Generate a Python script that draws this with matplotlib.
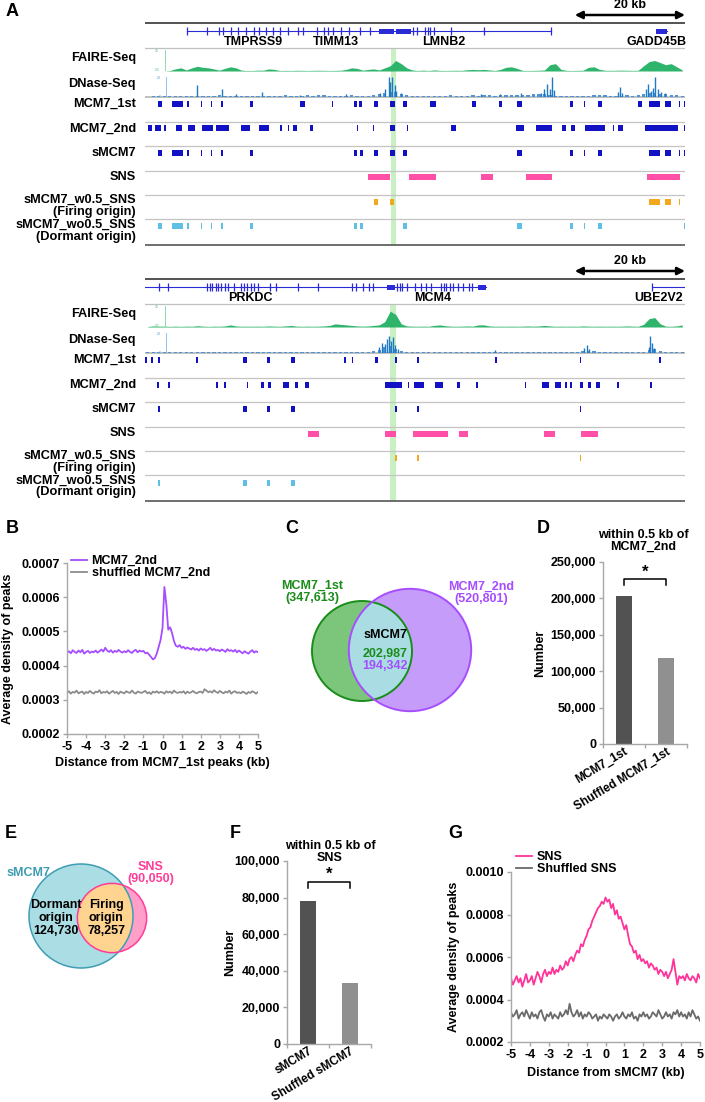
import numpy as np
import matplotlib.pyplot as plt
from matplotlib.patches import Circle, Rectangle
from matplotlib.ticker import FuncFormatter
from matplotlib.transforms import ScaledTranslation

plt.rcParams['font.family'] = ['Liberation Sans', 'DejaVu Sans']
plt.rcParams['font.weight'] = 'bold'
plt.rcParams['axes.labelweight'] = 'bold'
plt.rcParams['axes.unicode_minus'] = False

W, H = 705, 1102
FS = 9

# ---------------- panel A data (positions in kb from left edge of window) ----------------
SPAN_KB = 98
SCALE_KB = 20

top_gene_line = [(7.6, 73.6), (92.7, 94.7)]
top_exons = [7.6, 11.3, 13.5, 14.2, 15.6, 16.9, 18.4, 19.8, 20.7, 22.0, 23.3, 24.5, 26.0,
             27.8, 28.7, 31.3, 32.4, 33.3, 34.2, 35.5, 37.1, 39.1, 40.9, 48.7, 49.3, 50.9,
             51.3, 51.8, 52.4, 55.5, 61.5, 73.6]
top_thick = [(42.4, 45.1), (45.5, 48.2), (92.7, 94.7)]
top_gene_names = ["TMPRSS9", "TIMM13", "LMNB2", "GADD45B"]
top_gene_pos = [19.6, 34.7, 54.2, 92.9]

top_faire = [0, 0, 0, 0, 0.5, 2, 3, 1, 3, 4.5,
             3.5, 3, 2, 0.8, 2.5, 4, 3, 0.8, 0.5, 0.5,
             0.8, 0.8, 2, 1.5, 0.5, 0.6, 0.5, 0.7, 0.6, 0.5,
             0.6, 0.7, 0.6, 0.5, 0.6, 0.7, 1.5, 3, 2.5, 0.8,
             1.5, 2, 1, 3, 5, 10, 7, 3, 1, 0.5,
             0.8, 0.5, 1, 0.6, 0.5, 0.6, 0.7, 0.6, 1.2, 1.5,
             1.2, 1.5, 1, 0.5, 1.5, 3.5, 4, 2.5, 0.6, 0.5,
             0.6, 0.7, 1, 6, 7, 1.5, 0.6, 0.5, 0.6, 0.7,
             3.5, 4, 1.5, 0.7, 0.6, 0.7, 0.8, 0.7, 0.6, 0.7,
             5, 9, 10, 8, 6, 7, 4, 1]
top_dnase_bg = [0.5, 0.8, 1.0, 0.8, 1.0, 1.2, 1.0, 1.5, 1.0, 1.2,
                1.0, 1.2, 1.5, 2.0, 1.2, 1.0, 1.5, 1.2, 1.0, 1.2,
                1.5, 1.2, 1.0, 1.5, 1.2, 1.8, 1.5, 1.2, 1.5, 1.8,
                1.5, 2.0, 1.8, 1.5, 1.5, 1.2, 1.5, 1.8, 1.5, 1.2,
                1.5, 2.0, 3.0, 4.0, 5.0, 5.0, 3.0, 2.0, 1.5, 1.2,
                1.0, 1.2, 1.5, 1.2, 1.5, 1.8, 1.5, 1.2, 1.5, 1.8,
                1.5, 1.8, 2.0, 1.5, 1.8, 2.0, 2.2, 2.5, 2.0, 2.5,
                3.0, 3.0, 3.5, 2.5, 1.5, 1.2, 1.0, 1.2, 1.5, 1.2,
                1.5, 1.8, 2.0, 2.5, 1.5, 1.2, 1.5, 1.8, 1.5, 2.5,
                3.5, 4.0, 4.0, 3.5, 3.0, 2.5, 2.0, 1.5]
top_dnase_spike_pos = [9.5, 14.0, 16.5, 21.3, 28.2, 36.5, 42.7, 43.6, 44.2, 44.5, 44.9, 45.3,
                       45.6, 46.4, 60.9, 64.5, 68.2, 71.8, 72.4, 72.9, 73.5, 73.8, 74.2, 85.8,
                       86.2, 86.5, 90.9, 91.3, 91.8, 92.2, 92.5, 93.1, 93.6, 94.4]
top_dnase_spike_val = [12, 8, 3, 5, 2.5, 3, 4, 8, 20, 15, 20, 12,
                       6, 4, 3, 3, 4, 4, 8, 13, 8, 20, 7, 5,
                       10, 4, 8, 13, 6, 9, 20, 8, 5, 4]

top_mcm7_1st = [(2.4, 3.1), (4.9, 6.9), (7.6, 8.0), (10.2, 10.4), (12.0, 12.2), (13.8, 14.2),
                (19.1, 19.6), (28.2, 29.1), (34.0, 34.2), (38.0, 38.5), (38.9, 39.3), (41.6, 42.2),
                (44.4, 45.3), (46.9, 47.5), (51.8, 52.9), (59.3, 60.0), (64.2, 64.7), (67.5, 68.5),
                (77.1, 77.6), (79.6, 79.8), (82.2, 82.9), (89.5, 90.2), (91.5, 93.5), (94.4, 95.5),
                (96.9, 97.1), (97.8, 98.0)]
top_mcm7_2nd = [(0.5, 1.3), (1.8, 2.9), (3.5, 3.8), (5.6, 6.7), (7.8, 9.1), (10.4, 12.4),
                (12.9, 15.3), (17.5, 19.1), (20.7, 22.5), (24.5, 24.9), (26.0, 26.2), (26.9, 27.5),
                (30.0, 30.4), (38.4, 38.7), (41.3, 41.6), (44.4, 45.3), (47.5, 47.8), (55.6, 56.5),
                (67.3, 68.7), (70.9, 73.8), (75.6, 76.4), (77.3, 78.0), (79.8, 83.5), (84.9, 85.1),
                (85.8, 86.7), (90.7, 96.7), (97.8, 98.0)]
top_smcm7 = [(2.4, 3.1), (4.9, 6.9), (7.6, 8.0), (10.2, 10.4), (12.0, 12.2), (13.8, 14.2),
             (19.1, 19.6), (38.0, 38.5), (39.1, 39.5), (41.6, 42.2), (44.4, 45.3), (46.9, 47.5),
             (67.5, 68.5), (77.1, 77.6), (79.6, 79.8), (82.2, 82.9), (91.5, 93.5), (94.4, 95.5),
             (96.9, 97.1), (97.8, 98.0)]
top_sns = [(40.4, 44.4), (48.0, 52.9), (60.9, 63.1), (69.1, 73.8), (91.1, 97.1)]
top_firing = [(41.6, 42.2), (44.4, 45.1), (91.5, 93.5), (94.4, 95.5), (96.9, 97.1)]
top_dormant = [(2.4, 3.1), (4.9, 6.9), (7.6, 8.0), (10.2, 10.4), (12.0, 12.2), (13.8, 14.2),
               (19.1, 19.6), (38.0, 38.5), (39.1, 39.5), (46.9, 47.5), (67.5, 68.5), (77.1, 77.6),
               (79.6, 79.8), (82.2, 82.9), (97.8, 98.0)]
top_highlight = (44.7, 45.6)

bot_gene_line = [(0.0, 61.8), (92.0, 98.0)]
bot_exons = [2.5, 4.1, 11.3, 11.8, 12.2, 12.8, 13.3, 13.8, 14.6, 15.0, 16.1, 17.5, 18.0, 18.5,
             19.3, 19.7, 20.5, 22.6, 23.8, 27.7, 31.4, 37.5, 38.3, 39.6, 40.6, 41.3, 45.7, 46.2,
             46.7, 47.5, 49.0, 50.0, 51.0, 51.9, 53.7, 54.3, 54.7, 55.3, 55.9, 56.8, 57.8, 58.8,
             59.3, 92.0]
bot_thick = [(43.9, 45.3), (60.5, 61.8)]
bot_gene_names = ["PRKDC", "MCM4", "UBE2V2"]
bot_gene_pos = [19.1, 52.3, 93.2]

bot_faire = [0.5, 1.0, 0.8, 0.8, 0.6, 0.8, 0.6, 0.8, 0.7, 1.2,
             0.8, 0.6, 0.8, 0.7, 1.0, 2.0, 1.0, 0.7, 0.8, 0.7,
             0.8, 0.7, 1.0, 0.8, 0.7, 1.0, 1.5, 0.8, 0.7, 0.8,
             0.7, 0.8, 1.0, 1.5, 3.0, 2.5, 2.0, 1.5, 1.0, 0.8,
             1.0, 1.5, 2.0, 5.0, 15.0, 12.0, 3.0, 1.0, 0.8, 0.7,
             0.8, 0.7, 1.5, 2.0, 1.2, 0.8, 0.7, 0.8, 1.0, 0.8,
             2.0, 2.0, 1.0, 0.7, 0.8, 0.7, 0.8, 0.7, 0.8, 1.0,
             0.8, 1.0, 1.5, 1.0, 0.7, 0.8, 0.7, 0.8, 0.7, 1.0,
             0.8, 0.7, 0.8, 0.7, 0.8, 0.7, 0.8, 1.0, 0.8, 0.7,
             2.5, 8.0, 9.0, 3.0, 0.8, 0.7, 1.0, 2.0]
bot_dnase_bg = [0.8, 1.0, 0.8, 1.2, 1.0, 0.8, 1.0, 1.2, 1.0, 0.8,
                1.0, 1.2, 1.0, 1.2, 1.5, 1.2, 1.0, 1.2, 1.0, 1.2,
                1.0, 1.2, 1.0, 0.8, 1.0, 1.2, 1.0, 0.8, 1.0, 1.2,
                1.0, 1.2, 1.0, 1.5, 1.2, 1.0, 1.2, 1.0, 1.2, 1.5,
                1.5, 2.0, 3.0, 6.0, 7.0, 4.0, 2.0, 1.2, 1.0, 1.2,
                1.0, 1.2, 1.0, 0.8, 1.0, 1.2, 1.0, 0.8, 1.0, 1.2,
                1.0, 1.2, 1.0, 1.5, 1.2, 1.0, 1.2, 1.0, 1.2, 1.0,
                1.2, 1.0, 1.2, 1.5, 1.2, 1.0, 1.2, 1.5, 1.5, 2.0,
                2.5, 2.0, 1.5, 1.2, 1.0, 1.2, 1.0, 1.2, 1.0, 1.2,
                1.5, 3.0, 4.0, 2.0, 1.2, 1.0, 1.0, 0.8]
bot_dnase_spike_pos = [42.5, 43.0, 43.5, 44.0, 44.3, 44.7, 45.0, 45.4, 46.0, 63.6,
                       79.6, 80.2, 80.6, 91.4, 91.7, 92.0, 92.3]
bot_dnase_spike_val = [6, 10, 9, 14, 17, 12, 16, 8, 4, 3,
                       5, 8, 4, 6, 17, 10, 5]

bot_mcm7_1st = [(0.0, 0.4), (1.1, 1.5), (2.4, 2.7), (9.3, 9.6), (17.8, 18.5), (22.2, 22.7),
                (26.5, 27.3), (36.2, 36.4), (37.5, 37.8), (41.8, 42.2), (45.3, 45.8), (49.3, 49.8),
                (63.5, 63.8), (78.9, 79.1), (93.3, 93.6)]
bot_mcm7_2nd = [(2.2, 2.5), (4.2, 4.5), (12.9, 13.3), (14.4, 14.7), (18.5, 18.7), (21.1, 21.6),
                (22.4, 22.9), (25.1, 26.2), (27.3, 27.8), (29.1, 29.8), (43.5, 46.7), (47.8, 48.0),
                (48.9, 50.7), (52.7, 54.0), (56.7, 57.1), (60.0, 60.5), (68.9, 69.1), (72.0, 73.3),
                (74.4, 75.5), (76.2, 76.5), (77.1, 77.5), (78.9, 79.5), (80.4, 80.9), (81.8, 82.5),
                (85.6, 86.0), (91.6, 92.0)]
bot_smcm7 = [(2.4, 2.7), (17.8, 18.5), (22.2, 22.7), (26.5, 27.3), (45.3, 45.8), (49.3, 49.8),
             (78.9, 79.1)]
bot_sns = [(29.6, 31.5), (43.6, 45.6), (48.7, 54.9), (56.9, 58.7), (72.5, 74.4), (79.1, 82.2)]
bot_firing = [(45.3, 45.8), (49.3, 49.8), (78.9, 79.1)]
bot_dormant = [(2.4, 2.7), (17.8, 18.5), (22.2, 22.7), (26.5, 27.3)]
bot_highlight = (44.5, 45.6)

track_labels = ["MCM7_1st", "MCM7_2nd", "sMCM7", "SNS",
                "sMCM7_w0.5_SNS\n(Firing origin)", "sMCM7_wo0.5_SNS\n(Dormant origin)"]

# ---------------- panel B / G profiles (x in kb, density in 1e-4) ----------------
b_mcm7_2nd = [4.38, 4.42, 4.36, 4.45, 4.40, 4.37, 4.44, 4.39, 4.46, 4.35,
              4.40, 4.43, 4.37, 4.41, 4.39, 4.44, 4.38, 4.42, 4.47, 4.41,
              4.52, 4.44, 4.40, 4.45, 4.38, 4.43, 4.40, 4.46, 4.41, 4.38,
              4.42, 4.39, 4.45, 4.40, 4.37, 4.43, 4.46, 4.39, 4.44, 4.41,
              4.43, 4.36, 4.38, 4.32, 4.25, 4.18, 4.22, 4.35, 4.55, 4.75,
              5.10, 6.30, 5.80, 5.05, 5.12, 4.95, 4.72, 4.58, 4.55, 4.60,
              4.52, 4.55, 4.49, 4.53, 4.50, 4.47, 4.52, 4.46, 4.49, 4.44,
              4.50, 4.46, 4.48, 4.43, 4.47, 4.52, 4.45, 4.49, 4.44, 4.46,
              4.42, 4.47, 4.44, 4.40, 4.48, 4.43, 4.45, 4.41, 4.46, 4.39,
              4.44, 4.40, 4.36, 4.42, 4.38, 4.35, 4.41, 4.45, 4.38, 4.42,
              4.39]
b_shuffled = [3.20, 3.25, 3.18, 3.23, 3.21, 3.27, 3.19, 3.22, 3.24, 3.17,
              3.23, 3.20, 3.26, 3.21, 3.18, 3.24, 3.22, 3.28, 3.19, 3.23,
              3.21, 3.25, 3.18, 3.22, 3.26, 3.20, 3.23, 3.17, 3.24, 3.21,
              3.19, 3.25, 3.22, 3.20, 3.27, 3.21, 3.18, 3.24, 3.22, 3.20,
              3.23, 3.26, 3.19, 3.22, 3.17, 3.24, 3.21, 3.25, 3.20, 3.23,
              3.22, 3.18, 3.25, 3.21, 3.24, 3.19, 3.27, 3.22, 3.20, 3.23,
              3.21, 3.25, 3.18, 3.24, 3.20, 3.22, 3.26, 3.21, 3.19, 3.23,
              3.24, 3.20, 3.31, 3.27, 3.22, 3.25, 3.21, 3.28, 3.23, 3.20,
              3.26, 3.22, 3.19, 3.24, 3.21, 3.27, 3.18, 3.23, 3.25, 3.20,
              3.22, 3.19, 3.24, 3.21, 3.17, 3.23, 3.20, 3.25, 3.22, 3.18,
              3.23]
g_sns = [5.0, 4.7, 4.9, 5.1, 4.8, 5.0, 4.6, 4.9, 5.2, 4.8,
         4.9, 5.1, 4.7, 5.0, 5.3, 5.1, 4.8, 5.2, 5.4, 5.1,
         5.3, 5.2, 5.5, 5.2, 5.4, 5.3, 5.6, 5.4, 5.5, 5.8,
         5.6, 5.9, 6.0, 5.8, 6.1, 6.3, 6.2, 6.6, 6.5, 6.8,
         7.0, 7.3, 7.4, 7.7, 7.9, 8.1, 8.3, 8.4, 8.6, 8.5,
         8.8, 8.6, 8.7, 8.3, 8.5, 8.0, 8.2, 7.8, 7.9, 7.6,
         7.3, 7.5, 7.0, 6.6, 6.5, 6.2, 6.3, 5.9, 6.1, 5.8,
         5.9, 5.7, 5.8, 5.5, 5.7, 5.6, 5.4, 5.5, 5.2, 5.4,
         5.3, 5.1, 5.3, 5.0, 5.2, 5.4, 5.9, 5.3, 4.7, 5.1,
         5.0, 5.1, 4.9, 5.2, 5.0, 4.9, 5.1, 5.0, 4.8, 5.2,
         5.0]
g_shuffled = [3.4, 3.2, 3.3, 3.5, 3.1, 3.3, 3.4, 3.2, 3.5, 3.3,
              3.1, 3.4, 3.2, 3.3, 3.1, 3.4, 3.5, 3.2, 3.0, 3.3,
              3.2, 3.4, 3.1, 3.3, 3.2, 3.1, 3.4, 3.2, 3.3, 3.5,
              3.3, 3.8, 3.4, 3.2, 3.3, 3.5, 3.2, 3.4, 3.1, 3.3,
              3.2, 3.4, 3.3, 3.1, 3.2, 3.3, 3.0, 3.2, 3.1, 3.3,
              3.2, 3.1, 3.3, 3.2, 3.0, 3.2, 3.3, 3.1, 3.2, 3.4,
              3.2, 3.1, 3.3, 3.2, 3.4, 3.1, 3.2, 3.0, 3.3, 3.2,
              3.4, 3.2, 3.3, 3.1, 3.2, 3.4, 3.3, 3.2, 3.5, 3.3,
              3.1, 3.2, 3.4, 3.2, 3.3, 3.1, 3.4, 3.3, 3.5, 3.2,
              3.4, 3.2, 3.3, 3.1, 3.4, 3.2, 3.5, 3.3, 3.1, 3.2,
              3.0]

# ---------------- Venn / bar data ----------------
c_mcm7_1st = 347613
c_mcm7_2nd = 520801
c_overlap_1st = 202987
c_overlap_2nd = 194342
d_labels = ["MCM7_1st", "Shuffled MCM7_1st"]
d_values = [202987, 118500]
e_dormant = 124730
e_firing = 78257
e_sns = 90050
f_labels = ["sMCM7", "Shuffled sMCM7"]
f_values = [78257, 33200]

# ---------------- styling ----------------
MCM_BLUE = '#1212c4'
SNS_PINK = '#ff4fa6'
FIRE_ORANGE = '#f2a81d'
DORM_BLUE = '#5ec0e4'
FAIRE_GREEN = '#2fb46c'
DNASE_BLUE = '#1f78c4'
GENE_BLUE = '#2a2ad6'
HL_GREEN = '#c8f0c2'
AX_GRAY = '#a8a8a8'

fig = plt.figure(figsize=(W / 100, H / 100), dpi=100)


def px_axes(x0, y0, x1, y1):
    return fig.add_axes([x0 / W, 1 - y1 / H, (x1 - x0) / W, (y1 - y0) / H])


def ftext(x, y, s, **kw):
    kw.setdefault('va', 'center')
    return fig.text(x / W, 1 - y / H, s, **kw)


TRACK_X0, TRACK_X1 = 145, 685
ROW_CENTERS = [104, 128.5, 153, 177.5, 202, 226.5]
ROW_SEPS = [122, 146, 171, 195, 219]


def draw_browser(y0, gene_lines, exons, thick, names, name_pos, faire, dnase_bg,
                 spike_pos, spike_val, tracks, highlight):
    ax = px_axes(TRACK_X0, y0, TRACK_X1, y0 + 246)
    ax.set_xlim(0, SPAN_KB)
    ax.set_ylim(246, 0)
    ax.axis('off')

    # highlighted origin
    ax.add_patch(Rectangle((highlight[0], 48), highlight[1] - highlight[0], 197,
                           facecolor=HL_GREEN, edgecolor='none', zorder=0))

    # scale bar
    ax.annotate('', xy=(SPAN_KB, 15), xytext=(SPAN_KB - SCALE_KB, 15),
                arrowprops=dict(arrowstyle='<|-|>', color='black', lw=1.8,
                                mutation_scale=11, shrinkA=0, shrinkB=0))
    ax.text(SPAN_KB - SCALE_KB / 2, 5, f'{SCALE_KB} kb', ha='center', va='center', fontsize=FS)

    # frame lines
    ax.plot([0, SPAN_KB], [23, 23], color='#444444', lw=1.3)
    ax.plot([0, SPAN_KB], [48, 48], color='#c0c0c0', lw=0.9)
    ax.plot([0, SPAN_KB], [97, 97], color='#b5b5b5', lw=1.2)
    for s in ROW_SEPS:
        ax.plot([0, SPAN_KB], [s, s], color='#c4c4c4', lw=0.9)
    ax.plot([0, SPAN_KB], [245, 245], color='#555555', lw=1.2)

    # genes
    for a, b in gene_lines:
        ax.plot([a, b], [31, 31], color=GENE_BLUE, lw=0.8)
    ax.vlines(exons, 27, 35, color=GENE_BLUE, lw=0.9)
    for a, b in thick:
        ax.add_patch(Rectangle((a, 28.5), b - a, 5, facecolor=GENE_BLUE, edgecolor='none'))
    for n, p in zip(names, name_pos):
        ax.text(p, 42, n, ha='center', va='center', fontsize=FS)

    # peak tracks
    for yc, (ivals, col) in zip(ROW_CENTERS, tracks):
        ax.broken_barh([(a, b - a) for a, b in ivals], (yc - 3, 6), facecolors=col)

    # signal tracks
    kb = np.arange(len(faire)) + 0.5
    axf = px_axes(TRACK_X0, y0 + 50, TRACK_X1, y0 + 71)
    axf.set_xlim(0, SPAN_KB)
    axf.set_ylim(0, 20)
    axf.axis('off')
    axf.fill_between(kb, faire, color=FAIRE_GREEN, lw=0)
    axf.plot([3.6, 3.6], [0, 20], color='#7fd6a4', lw=0.6)
    axf.text(2.6, 19, '25', fontsize=2.5, color='#7fd6a4', ha='right', va='center')
    axf.text(2.6, 0.5, '0.1', fontsize=2.5, color='#7fd6a4', ha='right', va='center')

    axd = px_axes(TRACK_X0, y0 + 77, TRACK_X1, y0 + 97)
    axd.set_xlim(0, SPAN_KB)
    axd.set_ylim(0, 20)
    axd.axis('off')
    axd.bar(np.arange(len(dnase_bg)) + 0.5, dnase_bg, width=0.6, color='#4f94d4', lw=0)
    axd.vlines(spike_pos, 0, spike_val, color=DNASE_BLUE, lw=1.0)
    axd.plot([3.8, 3.8], [0, 20], color='#7fb6e6', lw=0.6)
    axd.text(2.8, 19, '20', fontsize=2.5, color='#7fb6e6', ha='right', va='center')
    axd.text(2.8, 0.5, '0', fontsize=2.5, color='#7fb6e6', ha='right', va='center')

    # labels
    ftext(136, y0 + 58, 'FAIRE-Seq', ha='right', fontsize=9.2)
    ftext(136, y0 + 84, 'DNase-Seq', ha='right', fontsize=9.2)
    for yc, lab in zip(ROW_CENTERS, track_labels):
        if '\n' in lab:
            ftext(136, y0 + yc + 4, lab, ha='right', fontsize=9.2, linespacing=1.0)
        else:
            ftext(136, y0 + yc, lab, ha='right', fontsize=9.2)


draw_browser(0, top_gene_line, top_exons, top_thick, top_gene_names, top_gene_pos,
             top_faire, top_dnase_bg, top_dnase_spike_pos, top_dnase_spike_val,
             [(top_mcm7_1st, MCM_BLUE), (top_mcm7_2nd, MCM_BLUE), (top_smcm7, MCM_BLUE),
              (top_sns, SNS_PINK), (top_firing, FIRE_ORANGE), (top_dormant, DORM_BLUE)],
             top_highlight)
draw_browser(256, bot_gene_line, bot_exons, bot_thick, bot_gene_names, bot_gene_pos,
             bot_faire, bot_dnase_bg, bot_dnase_spike_pos, bot_dnase_spike_val,
             [(bot_mcm7_1st, MCM_BLUE), (bot_mcm7_2nd, MCM_BLUE), (bot_smcm7, MCM_BLUE),
              (bot_sns, SNS_PINK), (bot_firing, FIRE_ORANGE), (bot_dormant, DORM_BLUE)],
             bot_highlight)


def style_axes(ax):
    for s in ['top', 'right']:
        ax.spines[s].set_visible(False)
    for s in ['left', 'bottom']:
        ax.spines[s].set_color(AX_GRAY)
        ax.spines[s].set_linewidth(1.0)
    ax.tick_params(colors=AX_GRAY, labelcolor='black', labelsize=FS, length=3, width=1, pad=2)


# ---------------- panel B ----------------
axb = px_axes(67, 563, 258, 734)
axb.plot(np.linspace(-5, 5, len(b_mcm7_2nd)), np.array(b_mcm7_2nd) * 1e-4, color='#a64dff',
         lw=1.3, label='MCM7_2nd')
axb.plot(np.linspace(-5, 5, len(b_shuffled)), np.array(b_shuffled) * 1e-4, color='#8c8c8c',
         lw=1.3, label='shuffled MCM7_2nd')
axb.set_xlim(-5, 5)
axb.set_ylim(0.0002, 0.0007)
axb.set_xticks(range(-5, 6))
axb.set_yticks([0.0002, 0.0003, 0.0004, 0.0005, 0.0006, 0.0007])
axb.yaxis.set_major_formatter(FuncFormatter(lambda v, p: f'{v:.4f}'))
style_axes(axb)
axb.set_xlabel('Distance from MCM7_1st peaks (kb)', fontsize=FS)
axb.xaxis.set_label_coords(0.5, -0.135)
axb.set_ylabel('Average density of peaks', fontsize=FS)
axb.yaxis.set_label_coords(-0.275, 0.5)
axb.legend(loc='upper left', bbox_to_anchor=(71 / W, 1 - 555 / H), bbox_transform=fig.transFigure,
           frameon=False, fontsize=FS, handlelength=1.3, handletextpad=0.35, labelspacing=0.0,
           borderpad=0, borderaxespad=0)

# ---------------- panel G ----------------
axg = px_axes(511, 872, 700, 1042)
axg.plot(np.linspace(-5, 5, len(g_sns)), np.array(g_sns) * 1e-4, color='#ff3399', lw=1.3, label='SNS')
axg.plot(np.linspace(-5, 5, len(g_shuffled)), np.array(g_shuffled) * 1e-4, color='#6a6a6a', lw=1.3,
         label='Shuffled SNS')
axg.set_xlim(-5, 5)
axg.set_ylim(0.0002, 0.0010)
axg.set_xticks(range(-5, 6))
axg.set_yticks([0.0002, 0.0004, 0.0006, 0.0008, 0.0010])
axg.yaxis.set_major_formatter(FuncFormatter(lambda v, p: f'{v:.4f}'))
style_axes(axg)
axg.set_xlabel('Distance from sMCM7 (kb)', fontsize=FS)
axg.xaxis.set_label_coords(0.5, -0.145)
axg.set_ylabel('Average density of peaks', fontsize=FS)
axg.yaxis.set_label_coords(-0.27, 0.5)
axg.legend(loc='upper left', bbox_to_anchor=(516 / W, 1 - 851 / H), bbox_transform=fig.transFigure,
           frameon=False, fontsize=FS, handlelength=1.3, handletextpad=0.35, labelspacing=0.0,
           borderpad=0, borderaxespad=0)


# ---------------- bar panels D and F ----------------
def bar_panel(box, labels, values, ymax, ystep, title, title_xy, bracket, label_x):
    ax = px_axes(*box)
    ax.bar([0, 1], values, width=0.4, color=['#525252', '#909090'])
    ax.set_xlim(-0.5, 1.5)
    ax.set_ylim(0, ymax)
    ax.set_yticks(np.arange(0, ymax + 1, ystep))
    ax.yaxis.set_major_formatter(FuncFormatter(lambda v, p: f'{int(v):,}'))
    ax.set_xticks([0, 1])
    ax.set_xticks([-0.5, 0.5, 1.5], minor=True)
    style_axes(ax)
    ax.set_xticklabels(labels, rotation=31, ha='right', rotation_mode='anchor', fontsize=8.6)
    shift = ScaledTranslation(6 / 100, 0, fig.dpi_scale_trans)
    for lab in ax.get_xticklabels():
        lab.set_transform(lab.get_transform() + shift)
    ax.tick_params(axis='x', which='major', length=0, pad=1)
    ax.tick_params(axis='x', which='minor', length=3, color=AX_GRAY, width=1)
    ax.set_ylabel('Number', fontsize=FS)
    ax.yaxis.set_label_coords(label_x, 0.5)
    yb, yt = bracket
    ax.plot([0, 0, 1, 1], [yb, yt, yt, yb], color='black', lw=1.1, clip_on=False)
    ax.text(0.5, yt, '*', ha='center', va='bottom', fontsize=12, clip_on=False)
    ftext(title_xy[0], title_xy[1], title, ha='center', fontsize=FS, linespacing=0.95)
    return ax


bar_panel((603, 562, 687, 744), d_labels, d_values, 250000, 50000,
          'within 0.5 kb of\nMCM7_2nd', (643, 541), (218000, 226000), -0.68)
bar_panel((287, 861, 371, 1044), f_labels, f_values, 100000, 20000,
          'within 0.5 kb of\nSNS', (330, 852), (85000, 88500), -0.61)

# ---------------- Venn C ----------------
axc = px_axes(290, 570, 530, 720)
axc.set_xlim(290, 530)
axc.set_ylim(720, 570)
axc.axis('off')
C_SCALE = 50 / np.sqrt(c_mcm7_1st)
r1 = C_SCALE * np.sqrt(c_mcm7_1st)
r2 = C_SCALE * np.sqrt(c_mcm7_2nd)
c1 = (362, 651)
c2 = (410, 650)
g = Circle(c1, r1, facecolor='#7cc67c', edgecolor='none')
p = Circle(c2, r2, facecolor='#c69cfa', edgecolor='none')
axc.add_patch(g)
axc.add_patch(p)
inter = Circle(c2, r2, facecolor='#a9dde3', edgecolor='none')
axc.add_patch(inter)
inter.set_clip_path(g)
axc.add_patch(Circle(c1, r1, facecolor='none', edgecolor='#1a8c1a', lw=1.4))
axc.add_patch(Circle(c2, r2, facecolor='none', edgecolor='#a64dff', lw=1.4))
ftext(312, 592, f'MCM7_1st\n({c_mcm7_1st:,})', ha='center', fontsize=FS, color='#1a8c1a',
      linespacing=0.95)
ftext(481, 593, f'MCM7_2nd\n({c_mcm7_2nd:,})', ha='center', fontsize=FS, color='#a64dff',
      linespacing=0.95)
ftext(385, 635, 'sMCM7', ha='center', fontsize=FS)
ftext(385, 654, f'{c_overlap_1st:,}', ha='center', fontsize=FS, color='#1a8c1a')
ftext(385, 666, f'{c_overlap_2nd:,}', ha='center', fontsize=FS, color='#a64dff')

# ---------------- Venn E ----------------
axe = px_axes(0, 850, 200, 980)
axe.set_xlim(0, 200)
axe.set_ylim(980, 850)
axe.axis('off')
E_SCALE = 52 / np.sqrt(e_dormant + e_firing)
rs = E_SCALE * np.sqrt(e_dormant + e_firing)
rn = E_SCALE * np.sqrt(e_sns)
cs = (81, 916)
cn = (112, 918)
blue = Circle(cs, rs, facecolor='#aadde4', edgecolor='none')
pink = Circle(cn, rn, facecolor='#ff9fca', edgecolor='none')
axe.add_patch(blue)
axe.add_patch(pink)
fire = Circle(cn, rn, facecolor='#ffd491', edgecolor='none')
axe.add_patch(fire)
fire.set_clip_path(blue)
axe.add_patch(Circle(cs, rs, facecolor='none', edgecolor='#3f9db3', lw=1.1))
axe.add_patch(Circle(cn, rn, facecolor='none', edgecolor='#ff3d98', lw=1.1))
ftext(28, 873, 'sMCM7', ha='center', fontsize=FS, color='#3f9db3')
ftext(151, 873, f'SNS\n({e_sns:,})', ha='center', fontsize=FS, color='#ff3d98', linespacing=0.95)
ftext(56, 918, f'Dormant\norigin\n{e_dormant:,}', ha='center', fontsize=FS, linespacing=1.1)
ftext(106, 918, f'Firing\norigin\n{e_firing:,}', ha='center', fontsize=FS, linespacing=1.1)

# ---------------- panel letters ----------------
for letter, x, y in [('A', 6, 11), ('B', 6, 528), ('C', 285, 528), ('D', 537, 528),
                     ('E', 5, 833), ('F', 230, 833), ('G', 448, 833)]:
    ftext(x, y, letter, fontsize=13, ha='left')

fig.savefig('out.png', dpi=100)
